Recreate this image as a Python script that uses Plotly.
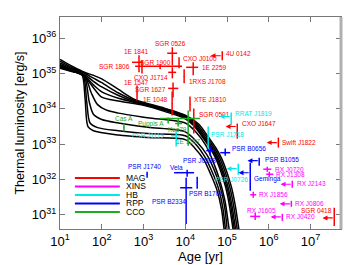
import numpy as np
import plotly.graph_objects as go

# ---------------- cooling curves (log10 age [yr], log10 L [erg/s]) ----------------
curve_log_age = [
    [1.0, 1.3, 1.52, 1.6, 1.67, 1.8, 2.4, 3.1, 4.0, 4.22, 4.45, 4.62, 4.76, 4.87, 4.93, 4.97],
    [1.0, 1.3, 1.55, 1.64, 1.72, 1.9, 2.4, 3.1, 4.0, 4.25, 4.48, 4.65, 4.79, 4.9, 4.96, 5.0],
    [1.0, 1.3, 1.58, 1.7, 1.8, 2.0, 2.4, 3.1, 4.0, 4.29, 4.52, 4.69, 4.83, 4.94, 5.0, 5.04],
    [1.0, 1.3, 1.6, 1.75, 1.9, 2.1, 2.4, 3.1, 4.0, 4.25, 4.5, 4.67, 4.82, 4.95, 5.05, 5.09],
    [1.0, 1.3, 1.6, 1.8, 2.0, 2.4, 3.0, 3.5, 4.0, 4.2, 4.42, 4.59, 4.73, 4.86, 4.97, 5.06, 5.14, 5.18],
    [1.0, 1.3, 1.6, 1.8, 2.0, 2.4, 2.8, 3.5, 4.0, 4.22, 4.45, 4.62, 4.76, 4.89, 5.0, 5.09, 5.17, 5.21],
    [1.0, 1.3, 1.6, 1.8, 2.0, 2.4, 2.8, 3.5, 4.0, 4.25, 4.48, 4.65, 4.79, 4.92, 5.03, 5.12, 5.2, 5.24],
    [1.0, 1.3, 1.6, 1.8, 2.0, 2.4, 2.8, 3.5, 4.0, 4.28, 4.52, 4.69, 4.83, 4.96, 5.07, 5.16, 5.24, 5.28],
    [1.0, 1.3, 1.6, 1.8, 2.0, 2.4, 2.8, 3.5, 4.0, 4.32, 4.56, 4.73, 4.87, 5.0, 5.11, 5.2, 5.28, 5.32],
]
curve_log_lum = [
    [35.15, 35.05, 34.98, 34.3, 33.5, 33.38, 33.26, 33.19, 33.13, 32.9, 32.55, 32.12, 31.7, 31.15, 30.6, 30.3],
    [35.17, 35.06, 34.95, 34.2, 33.6, 33.47, 33.38, 33.3, 33.24, 33.0, 32.62, 32.2, 31.77, 31.2, 30.63, 30.3],
    [35.19, 35.07, 34.92, 34.2, 33.85, 33.7, 33.6, 33.48, 33.35, 33.05, 32.7, 32.28, 31.82, 31.25, 30.65, 30.3],
    [35.21, 35.08, 34.9, 34.45, 34.12, 33.97, 33.88, 33.75, 33.6, 33.35, 32.95, 32.5, 32.0, 31.4, 30.6, 30.3],
    [35.23, 35.09, 34.9, 34.6, 34.33, 34.22, 34.1, 33.93, 33.72, 33.53, 33.19, 32.9, 32.6, 32.2, 31.77, 31.25, 30.63, 30.3],
    [35.26, 35.11, 34.93, 34.68, 34.48, 34.3, 34.18, 33.96, 33.75, 33.54, 33.19, 32.9, 32.6, 32.2, 31.77, 31.25, 30.63, 30.3],
    [35.3, 35.13, 34.96, 34.78, 34.62, 34.38, 34.2, 33.98, 33.78, 33.55, 33.19, 32.9, 32.6, 32.2, 31.77, 31.25, 30.63, 30.3],
    [35.35, 35.16, 35.0, 34.87, 34.74, 34.45, 34.23, 34.0, 33.8, 33.56, 33.19, 32.9, 32.6, 32.2, 31.77, 31.25, 30.63, 30.3],
    [35.4, 35.2, 35.03, 34.95, 34.85, 34.55, 34.26, 34.02, 33.82, 33.57, 33.19, 32.9, 32.6, 32.2, 31.77, 31.25, 30.63, 30.3],
]

# ---------------- observed sources ----------------
# MAG
mag_names = ["SGR 0526", "1E 1841", "SGR 1806", "SGR 1900", "CXO J0100", "CXO J1714", "1E 2259",
             "4U 0142", "1RXS J1708", "1E 1547", "SGR 1627", "1E 1048", "XTE J1810", "SGR 0501",
             "CXO J1647", "Swift J1822", "SGR 0418"]
mag_age = [4.9e3, 7.8e2, 9.2e2, 2.5e3, 7.1e3, 4.9e3, 1.55e4, 7.7e4, 9.4e3, 7.0e2, 5.1e3, 4.85e3,
           1.3e4, 1.6e4, 1.76e5, 1.7e6, 3.7e7]
mag_age_lo = [3.7e3, 5.3e2, 9.2e2, 6.3e2, 7.1e3, 3.9e3, 1.05e4, 7.7e4, 9.4e3, 7.0e2, 3.9e3, 4.85e3,
              1.3e4, 1.6e4, 1.76e5, 1.7e6, 3.7e7]
mag_age_hi = [6.4e3, 9.8e2, 9.2e2, 8.4e3, 7.1e3, 6.05e3, 2.04e4, 7.7e4, 9.4e3, 7.0e2, 6.8e3, 4.85e3,
              1.3e4, 1.6e4, 1.76e5, 1.7e6, 3.7e7]
mag_lum = [3.75e35, 2.08e35, 1.55e35, 1.6e35, 2.0e35, 1.08e35, 1.5e35, 3.18e35, 8.3e34, 2.8e34,
           3.8e34, 1.4e34, 1.38e34, 4.5e33, 3.16e33, 1.11e33, 8.2e30]
mag_lum_lo = [1.71e35, 1.08e35, 1.01e35, 1.32e35, 1.41e35, 7.3e34, 8.9e34, 2.37e35, 5.27e34, 1.73e34,
              2.11e34, 6.46e33, 8.43e33, 2.0e33, 1.44e33, 8.0e32, 4.88e30]
mag_lum_hi = [5.55e35, 3.29e35, 2.37e35, 1.82e35, 2.88e35, 1.5e35, 2.08e35, 4.28e35, 1.32e35, 4.62e34,
              5.62e34, 3.12e34, 2.25e34, 1.03e34, 3.85e33, 1.54e33, 1.58e31]
mag_upper = [0, 0, 0, 0, 0, 0, 0, 1, 0, 0, 0, 0, 0, 0, 1, 1, 1]

# XINS
xins_names = ["RX J0720", "RX J1308", "RX J2143", "RX J1856", "RX J0806", "RX J1605", "RX J0420"]
xins_age = [9.2e5, 1.03e6, 3.66e6, 4.25e5, 3.47e6, 4.74e5, 2.11e6]
xins_age_lo = [7.4e5, 8.7e5, 3.66e6, 3.6e5, 3.47e6, 3.6e5, 2.11e6]
xins_age_hi = [1.15e6, 1.28e6, 3.66e6, 5.0e5, 3.47e6, 6.25e5, 2.11e6]
xins_lum = [1.96e32, 1.41e32, 7.36e31, 3.7e31, 2.05e31, 9.06e30, 8.77e30]
xins_lum_lo = [1.67e32, 1.2e32, 5.85e31, 3.04e31, 1.69e31, 7.2e30, 6.76e30]
xins_lum_hi = [2.31e32, 1.67e32, 9.25e31, 4.5e31, 2.5e31, 1.14e31, 1.07e31]
xins_upper = [0, 0, 1, 0, 1, 0, 1]

# HB
hb_names = ["RRAT J1819", "PSR J1119", "PSR J1718", "PSR J0726"]
hb_age = [1.26e5, 6.05e3, 3.54e4, 1.86e5]
hb_age_lo = [1.26e5, 4.6e3, 3.54e4, 1.86e5]
hb_age_hi = [1.26e5, 7.55e3, 3.54e4, 1.86e5]
hb_lum = [6.1e33, 1.75e33, 1.54e33, 2.03e32]
hb_lum_lo = [3.37e33, 8.55e32, 7.5e32, 1.37e32]
hb_lum_hi = [7.9e33, 2.28e33, 3.16e33, 2.81e32]
hb_upper = [1, 0, 0, 1]

# RPP
rpp_names = ["PSR J1740", "Vela", "PSR B2334", "PSR B1706", "PSR J0538", "PSR B0656", "PSR B1055", "Geminga"]
rpp_age = [1.22e3, 1.11e4, 1.05e4, 1.93e4, 3.95e4, 9.06e4, 5.9e5, 3.6e5]
rpp_age_lo = [1.22e3, 5.4e3, 7.55e3, 1.93e4, 3.17e4, 6.87e4, 5.9e5, 3.6e5]
rpp_age_hi = [1.22e3, 1.63e4, 1.47e4, 1.93e4, 4.93e4, 1.19e5, 5.9e5, 3.6e5]
rpp_lum = [1.4e32, 1.56e32, 5.85e31, 8.1e31, 6.58e32, 5.75e32, 3.42e32, 1.56e32]
rpp_lum_lo = [1.12e32, 1.2e32, 5.55e30, 5.48e31, 4.74e32, 4.74e32, 2.47e32, 4.81e31]
rpp_lum_hi = [1.67e32, 1.9e32, 1.12e32, 1.2e32, 8.55e32, 7.5e32, 4.16e32, 3.0e32]
rpp_upper = [0, 0, 0, 0, 0, 0, 1, 1]

# CCO
cco_names = ["Cas A", "Puppis A", "Kes79", "1E 1207"]
cco_age = [3.4e2, 3.89e3, 6.76e3, 1.175e4]
cco_age_lo = [3.4e2, 3.89e3, 5.73e3, 2.5e3]
cco_age_hi = [3.4e2, 3.89e3, 8.43e3, 2.275e4]
cco_lum = [2.95e33, 4.7e33, 3.85e33, 5.33e33]
cco_lum_lo = [2.28e33, 3.85e33, 3.16e33, 9.1e32]
cco_lum_hi = [3.85e33, 5.7e33, 5.33e33, 9.0e33]
cco_upper = [0, 0, 0, 0]

# tick labels
x_tick_vals = [1e1, 1e2, 1e3, 1e4, 1e5, 1e6, 1e7]
x_tick_text = ["10<sup>1</sup>", "10<sup>2</sup>", "10<sup>3</sup>", "10<sup>4</sup>",
               "10<sup>5</sup>", "10<sup>6</sup>", "10<sup>7</sup>"]
y_tick_vals = [1e31, 1e32, 1e33, 1e34, 1e35, 1e36]
y_tick_text = ["10<sup>31</sup>", "10<sup>32</sup>", "10<sup>33</sup>", "10<sup>34</sup>",
               "10<sup>35</sup>", "10<sup>36</sup>"]

legend_names = ["MAG", "XINS", "HB", "RPP", "CCO"]

# ---------------- styling / label placement (pixels) ----------------
COL = {"MAG": "#ff0000", "XINS": "#ff00ff", "HB": "#00e8e8", "RPP": "#0000ff", "CCO": "#1faa1f"}
LABEL_FONT = "Liberation Sans Narrow, Arial Narrow, Liberation Sans, Arial, sans-serif"
ARROW_DEX = 0.28

mag_lab = [("center", -2, 10), ("center", -3, 11), ("right", -10, 0), ("center", -5, 4),
           ("left", 2, 4), ("right", -2, -5), ("left", 7, 0), ("left", 2, 2), ("left", 3, -5),
           ("center", -1, 11), ("right", -5, -1), ("right", -2, 4), ("left", 2, 4), ("left", 3, 7),
           ("left", 3, 3), ("left", 2, 0), ("right", 0, 7)]
xins_lab = [("left", 6, 0), ("left", 5, 0), ("left", 3, 1), ("left", 4, 0), ("left", 2, 0),
            ("center", 6, 6), ("left", 2, 0)]
hb_lab = [("left", 2, 3), ("right", -10, 0), ("left", 1, 3), ("center", -7, -11)]
rpp_lab = [("center", -3, 8), ("center", -11, 5), ("center", -17, -14), ("center", 9, -11),
           ("center", -11, -10), ("left", 5, 4), ("left", 4, 1), ("left", 2, -6)]
cco_lab = [("center", 0, 9), ("right", -2, -4), ("center", -1, -6), ("center", 0, -23)]

fig = go.Figure()

for la, ll in zip(curve_log_age, curve_log_lum):
    fig.add_trace(go.Scatter(
        x=10 ** np.array(la), y=10 ** np.array(ll), mode="lines",
        line=dict(color="black", width=1.5, shape="spline", smoothing=0.8),
        showlegend=False, hoverinfo="skip"))

annotations = []
groups = [
    ("MAG", mag_names, mag_age, mag_age_lo, mag_age_hi, mag_lum, mag_lum_lo, mag_lum_hi, mag_upper, mag_lab),
    ("XINS", xins_names, xins_age, xins_age_lo, xins_age_hi, xins_lum, xins_lum_lo, xins_lum_hi, xins_upper, xins_lab),
    ("HB", hb_names, hb_age, hb_age_lo, hb_age_hi, hb_lum, hb_lum_lo, hb_lum_hi, hb_upper, hb_lab),
    ("RPP", rpp_names, rpp_age, rpp_age_lo, rpp_age_hi, rpp_lum, rpp_lum_lo, rpp_lum_hi, rpp_upper, rpp_lab),
    ("CCO", cco_names, cco_age, cco_age_lo, cco_age_hi, cco_lum, cco_lum_lo, cco_lum_hi, cco_upper, cco_lab),
]
for cls, names, age, alo, ahi, lum, llo, lhi, upper, lab in groups:
    c = COL[cls]
    a = np.array(age); l = np.array(lum)
    fig.add_trace(go.Scatter(
        x=a, y=l, mode="markers", marker=dict(size=1, color=c),
        error_x=dict(type="data", symmetric=False, array=np.array(ahi) - a,
                     arrayminus=a - np.array(alo), color=c, thickness=1.5, width=0),
        error_y=dict(type="data", symmetric=False, array=np.array(lhi) - l,
                     arrayminus=l - np.array(llo), color=c, thickness=1.5, width=0),
        showlegend=False, hoverinfo="skip"))
    for i, nm in enumerate(names):
        if upper[i]:
            annotations.append(dict(
                x=np.log10(age[i]) - ARROW_DEX, y=np.log10(lum[i]),
                ax=np.log10(age[i]), ay=np.log10(lum[i]),
                xref="x", yref="y", axref="x", ayref="y", text="", showarrow=True,
                arrowhead=2, arrowsize=0.9, arrowwidth=1.1, arrowcolor=c, standoff=0))
        anc, dx, dy = lab[i]
        annotations.append(dict(
            x=np.log10(age[i]), y=np.log10(lum[i]), xref="x", yref="y", text=nm,
            showarrow=False, xanchor=anc, yanchor="middle", xshift=dx, yshift=dy,
            font=dict(size=6.5, color=c, family=LABEL_FONT)))

# legend drawn inside the plot area
shapes = []
leg_y = [0.2406, 0.2005, 0.1604, 0.1203, 0.0802]
for nm, yy in zip(legend_names, leg_y):
    shapes.append(dict(type="line", xref="paper", yref="paper", x0=0.053, x1=0.213, y0=yy, y1=yy,
                       line=dict(color=COL[nm], width=2)))
    annotations.append(dict(x=0.228, y=yy, xref="paper", yref="paper", text=nm, showarrow=False,
                            xanchor="left", yanchor="middle",
                            font=dict(size=8.5, color="black", family="Liberation Sans, Arial")))
shapes.append(dict(type="line", xref="paper", yref="paper", x0=1, x1=1, y0=0, y1=1,
                   line=dict(color="#b0b0b0", width=3)))

axis_common = dict(type="log", showgrid=False, zeroline=False, showline=True, mirror="ticks",
                   linecolor="#777777", linewidth=1, ticks="inside", ticklen=5, tickcolor="#777777",
                   automargin=False,
                   tickfont=dict(size=13, color="black", family="Liberation Sans, Arial"))

# the page body adds an 8px offset, so the figure is sized to fit the 353x265 window
fig.update_layout(
    width=345, height=257, margin=dict(l=52, r=12, t=9, b=36, autoexpand=False),
    paper_bgcolor="white", plot_bgcolor="white", showlegend=False,
    font=dict(color="black", family="Liberation Sans, Arial"),
    xaxis=dict(range=[1, 7.73], tickvals=x_tick_vals, ticktext=x_tick_text,
               title=dict(text="Age [yr]", font=dict(size=13, color="black"), standoff=2),
               **axis_common),
    yaxis=dict(range=[30.6, 36.6], tickvals=y_tick_vals, ticktext=y_tick_text,
               title=dict(text="Thermal luminosity [erg/s]", font=dict(size=12.5, color="black"),
                          standoff=4),
               **axis_common),
    annotations=annotations, shapes=shapes,
)

fig.write_html("out.html")
